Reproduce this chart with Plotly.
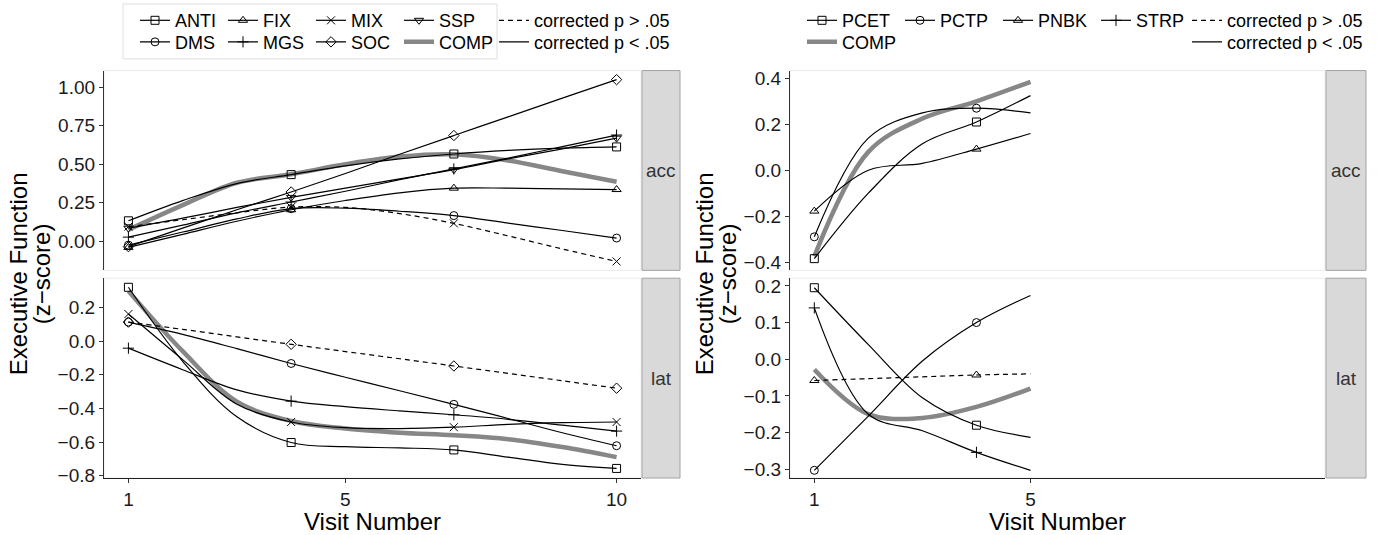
import plotly.graph_objects as go

# ---------------- data ----------------
visits_left = [1, 2, 3, 4, 5, 6, 7, 8, 9, 10]
marker_visits_left = [1, 4, 7, 10]
visits_right = [1, 2, 3, 4, 5]
marker_visits_right = [1, 4]
x_ticks_left = [1, 5, 10]
x_ticks_right = [1, 5]

# left column, accuracy facet
acc_left_ANTI = [0.133, 0.264, 0.375, 0.433, 0.49, 0.535, 0.567, 0.59, 0.605, 0.613]
acc_left_DMS = [-0.025, 0.06, 0.145, 0.212, 0.215, 0.195, 0.167, 0.118, 0.07, 0.021]
acc_left_FIX = [-0.04, 0.045, 0.13, 0.205, 0.265, 0.315, 0.345, 0.345, 0.34, 0.336]
acc_left_MGS = [0.027, 0.105, 0.185, 0.255, 0.325, 0.40, 0.47, 0.54, 0.615, 0.69]
acc_left_MIX = [0.095, 0.14, 0.185, 0.222, 0.22, 0.18, 0.116, 0.035, -0.05, -0.131]
acc_left_SOC = [-0.035, 0.085, 0.205, 0.32, 0.44, 0.565, 0.687, 0.808, 0.93, 1.05]
acc_left_SSP = [0.085, 0.15, 0.22, 0.285, 0.345, 0.405, 0.465, 0.535, 0.60, 0.67]
acc_left_COMP = [0.075, 0.235, 0.38, 0.435, 0.50, 0.55, 0.565, 0.525, 0.455, 0.387]

# left column, latency facet
lat_left_ANTI = [0.32, -0.12, -0.45, -0.603, -0.628, -0.635, -0.647, -0.69, -0.733, -0.757]
lat_left_DMS = [0.113, 0.04, -0.045, -0.133, -0.215, -0.295, -0.376, -0.46, -0.545, -0.622]
lat_left_MGS = [-0.042, -0.17, -0.29, -0.357, -0.39, -0.415, -0.438, -0.465, -0.50, -0.535]
lat_left_MIX = [0.161, -0.11, -0.375, -0.481, -0.515, -0.52, -0.512, -0.495, -0.485, -0.481]
lat_left_SOC = [0.113, 0.07, 0.025, -0.019, -0.062, -0.105, -0.148, -0.192, -0.236, -0.28]
lat_left_COMP = [0.297, -0.06, -0.36, -0.475, -0.52, -0.545, -0.56, -0.583, -0.63, -0.69]

# right column, accuracy facet
acc_right_PCET = [-0.385, -0.10, 0.115, 0.21, 0.325]
acc_right_PCTP = [-0.29, 0.14, 0.25, 0.27, 0.25]
acc_right_PNBK = [-0.178, 0.0, 0.03, 0.092, 0.16]
acc_right_COMP = [-0.375, 0.08, 0.225, 0.30, 0.385]

# right column, latency facet
lat_right_PCET = [0.195, 0.04, -0.105, -0.18, -0.213]
lat_right_PCTP = [-0.303, -0.155, -0.005, 0.10, 0.174]
lat_right_PNBK = [-0.058, -0.053, -0.048, -0.043, -0.040]
lat_right_STRP = [0.14, -0.15, -0.195, -0.254, -0.303]
lat_right_COMP = [-0.028, -0.15, -0.16, -0.13, -0.08]

# y tick values per facet
acc_left_ticks = [0.0, 0.25, 0.5, 0.75, 1.0]
lat_left_ticks = [-0.8, -0.6, -0.4, -0.2, 0.0, 0.2]
acc_right_ticks = [-0.4, -0.2, 0.0, 0.2, 0.4]
lat_right_ticks = [-0.3, -0.2, -0.1, 0.0, 0.1, 0.2]

# series judged non-significant (dashed)
dashed_acc_left = ["MIX"]
dashed_lat_left = ["SOC"]
dashed_acc_right = []
dashed_lat_right = ["PNBK"]

sig_labels = ["corrected p > .05", "corrected p < .05"]

# ---------------- figure ----------------
FONT = "Liberation Sans, Arial, Helvetica, sans-serif"
W, H = 1387, 535

symbols = {
    "ANTI": "square-open", "DMS": "circle-open", "FIX": "triangle-up-open",
    "MGS": "cross-thin-open", "MIX": "x-thin-open", "SOC": "diamond-open",
    "SSP": "triangle-down-open",
    "PCET": "square-open", "PCTP": "circle-open", "PNBK": "triangle-up-open",
    "STRP": "cross-thin-open",
}

left_acc = {"COMP": acc_left_COMP, "ANTI": acc_left_ANTI, "DMS": acc_left_DMS,
            "FIX": acc_left_FIX, "MGS": acc_left_MGS, "MIX": acc_left_MIX,
            "SOC": acc_left_SOC, "SSP": acc_left_SSP}
left_lat = {"COMP": lat_left_COMP, "ANTI": lat_left_ANTI, "DMS": lat_left_DMS,
            "MGS": lat_left_MGS, "MIX": lat_left_MIX, "SOC": lat_left_SOC}
right_acc = {"COMP": acc_right_COMP, "PCET": acc_right_PCET,
             "PCTP": acc_right_PCTP, "PNBK": acc_right_PNBK}
right_lat = {"COMP": lat_right_COMP, "PCET": lat_right_PCET,
             "PCTP": lat_right_PCTP, "PNBK": lat_right_PNBK,
             "STRP": lat_right_STRP}

panels = [
    ("x", "y", "accL", visits_left, marker_visits_left, left_acc, dashed_acc_left),
    ("x2", "y2", "latL", visits_left, marker_visits_left, left_lat, dashed_lat_left),
    ("x3", "y3", "accR", visits_right, marker_visits_right, right_acc, dashed_acc_right),
    ("x4", "y4", "latR", visits_right, marker_visits_right, right_lat, dashed_lat_right),
]

# which trace carries each legend entry: (panel, series) -> (legend, rank)
legend_owner = {
    ("accL", "ANTI"): ("legend", 1), ("accL", "FIX"): ("legend", 2),
    ("latL", "MIX"): ("legend", 3), ("accL", "SSP"): ("legend", 4),
    ("accL", "DMS"): ("legend2", 1), ("accL", "MGS"): ("legend2", 2),
    ("accL", "SOC"): ("legend2", 3), ("accL", "COMP"): ("legend2", 4),
    ("accR", "PCET"): ("legend5", 1), ("accR", "PCTP"): ("legend5", 2),
    ("accR", "PNBK"): ("legend5", 3), ("latR", "STRP"): ("legend5", 4),
    ("accR", "COMP"): ("legend6", 1),
}
# last entry of each legend row gets a wider slot so its text is not clipped
last_in_row = {("accL", "SSP"), ("accL", "COMP"), ("latR", "STRP"), ("accR", "COMP")}

fig = go.Figure()
for xa, ya, key, visits, mvis, data, dashed in panels:
    for name, vals in data.items():
        owner = legend_owner.get((key, name))
        kw = dict(name=name, x=visits, y=vals, xaxis=xa, yaxis=ya,
                  hoverinfo="skip", showlegend=owner is not None)
        if owner is not None:
            kw["legend"] = owner[0]
            kw["legendrank"] = owner[1]
        if (key, name) in last_in_row:
            kw["legendwidth"] = 75
        if name == "COMP":
            fig.add_trace(go.Scatter(mode="lines",
                                     line=dict(color="#878787", width=4.5, shape="spline"),
                                     **kw))
        else:
            cols = ["black" if v in mvis else "rgba(0,0,0,0)" for v in visits]
            fig.add_trace(go.Scatter(
                mode="lines+markers",
                line=dict(color="black", width=1.2, shape="spline",
                          dash="5px,4px" if name in dashed else "solid"),
                marker=dict(symbol=symbols[name], size=8, color=cols,
                            line=dict(color=cols, width=1)),
                **kw))

# linetype legend entries (no data)
for lg_a, lg_b in [("legend3", "legend4"), ("legend7", "legend8")]:
    fig.add_trace(go.Scatter(x=[None], y=[None], mode="lines", name=sig_labels[0],
                             line=dict(color="black", width=1.2, dash="5px,4px"),
                             legend=lg_a, xaxis="x", yaxis="y", hoverinfo="skip"))
    fig.add_trace(go.Scatter(x=[None], y=[None], mode="lines", name=sig_labels[1],
                             line=dict(color="black", width=1.2),
                             legend=lg_b, xaxis="x", yaxis="y", hoverinfo="skip"))

xdom_left = [104 / W, 641 / W]
xdom_right = [790 / W, 1325 / W]
ydom_top = [1 - 274 / H, 1 - 70 / H]
ydom_bot = [1 - 486 / H, 1 - 282 / H]

tickfont = dict(family=FONT, size=19, color="#1a1a1a")
titlefont = dict(family=FONT, size=24, color="black")


def xaxis(dom, anchor, bottom, ticks):
    d = dict(domain=dom, anchor=anchor, range=[0.55, 10.45], tickvals=ticks,
             showgrid=False, zeroline=False, tickfont=tickfont)
    if bottom:
        d.update(showline=True, linecolor="#222", linewidth=1.2, ticks="outside",
                 ticklen=4, tickwidth=1, tickcolor="#333", showticklabels=True,
                 title=dict(text="Visit Number", font=titlefont, standoff=8))
    else:
        d.update(showline=False, ticks="", showticklabels=False)
    return d


def yaxis(dom, anchor, rng, ticks, fmt):
    return dict(domain=dom, anchor=anchor, range=rng, tickvals=ticks, tickformat=fmt,
                showgrid=False, zeroline=False, showline=True, linecolor="#333",
                linewidth=1.3, ticks="outside", ticklen=4, tickwidth=1,
                tickcolor="#333", tickfont=tickfont)


def leg(xpx, ypx, ew):
    return dict(x=xpx / W, y=1 - ypx / H, xanchor="left", yanchor="middle",
                orientation="h", font=dict(family=FONT, size=18, color="black"),
                bgcolor="rgba(0,0,0,0)", borderwidth=0, entrywidth=ew,
                entrywidthmode="pixels", itemwidth=30, tracegroupgap=0)


shapes = []
annotations = []
for xa, ya in [("x", "y"), ("x2", "y2"), ("x3", "y3"), ("x4", "y4")]:
    # faint panel border
    shapes.append(dict(type="rect", xref=xa + " domain", yref=ya + " domain",
                       x0=0, x1=1, y0=0, y1=1, line=dict(color="#ebebeb", width=1),
                       layer="below"))
for ya, x0, x1, lab in [("y", 642, 680, "acc"), ("y2", 642, 680, "lat"),
                        ("y3", 1326, 1366, "acc"), ("y4", 1326, 1366, "lat")]:
    shapes.append(dict(type="rect", xref="paper", yref=ya + " domain",
                       x0=x0 / W, x1=x1 / W, y0=0, y1=1,
                       fillcolor="#d9d9d9", line=dict(color="#a3a3a3", width=1)))
    annotations.append(dict(text=lab, xref="paper", yref=ya + " domain",
                            x=(x0 + x1) / 2 / W, y=0.5, xanchor="center",
                            yanchor="middle", showarrow=False,
                            font=dict(family=FONT, size=19, color="#333")))

# left legend box
shapes.append(dict(type="rect", xref="paper", yref="paper", x0=123 / W, x1=497 / W,
                   y0=1 - 58 / H, y1=1 - 2 / H, line=dict(color="#dedede", width=1)))

for x1c, x2c in [(18, 41), (704, 727)]:
    annotations.append(dict(text="Executive Function", xref="paper", yref="paper",
                            x=x1c / W, y=1 - 278 / H, textangle=-90,
                            xanchor="center", yanchor="middle",
                            showarrow=False, font=titlefont))
    annotations.append(dict(text="(z\u2212score)", xref="paper", yref="paper",
                            x=x2c / W, y=1 - 278 / H, textangle=-90,
                            xanchor="center", yanchor="middle",
                            showarrow=False, font=titlefont))

fig.update_layout(
    width=W, height=H, autosize=False,
    margin=dict(l=0, r=0, t=0, b=0),
    paper_bgcolor="white", plot_bgcolor="white",
    xaxis=xaxis(xdom_left, "y", False, x_ticks_left),
    xaxis2=xaxis(xdom_left, "y2", True, x_ticks_left),
    xaxis3=xaxis(xdom_right, "y3", False, x_ticks_right),
    xaxis4=xaxis(xdom_right, "y4", True, x_ticks_right),
    yaxis=yaxis(ydom_top, "x", [-0.189, 1.109], acc_left_ticks, ".2f"),
    yaxis2=yaxis(ydom_bot, "x2", [-0.814, 0.374], lat_left_ticks, ".1f"),
    yaxis3=yaxis(ydom_top, "x3", [-0.436, 0.434], acc_right_ticks, ".1f"),
    yaxis4=yaxis(ydom_bot, "x4", [-0.324, 0.221], lat_right_ticks, ".1f"),
    legend=leg(135, 19, 43),
    legend2=leg(135, 41, 43),
    legend3=leg(494, 19, 0),
    legend4=leg(494, 41, 0),
    legend5=leg(802, 19, 53),
    legend6=leg(802, 41, 53),
    legend7=leg(1187, 19, 0),
    legend8=leg(1187, 41, 0),
    shapes=shapes,
    annotations=annotations,
    showlegend=True,
)

fig.write_html("out.html")
